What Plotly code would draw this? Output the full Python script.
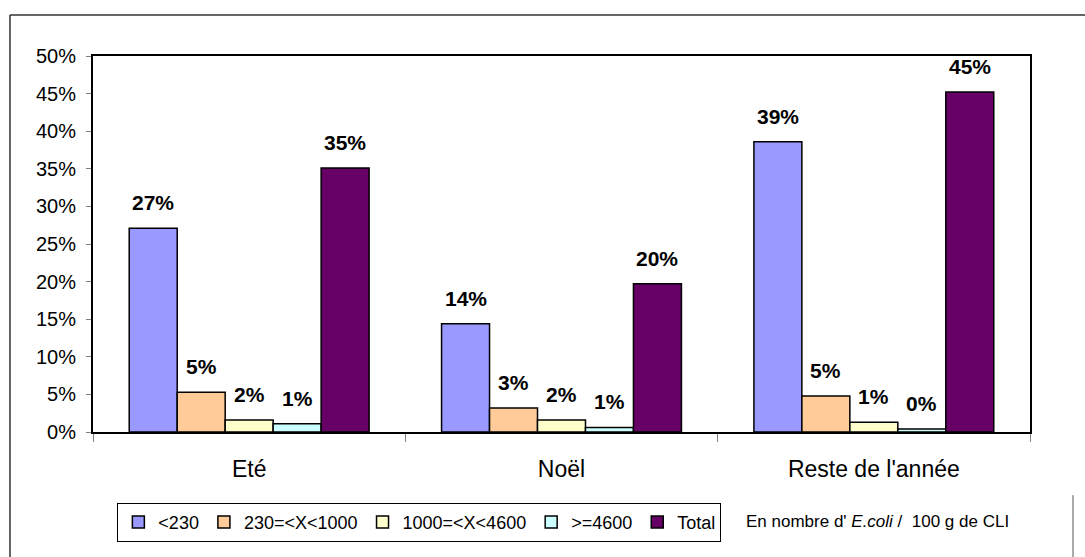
import plotly.graph_objects as go

categories = ["Eté", "Noël", "Reste de l'année"]
series_names = ["<230", "230=<X<1000", "1000=<X<4600", ">=4600", "Total"]
v_lt230 = [0.271, 0.144, 0.386]
v_230_1000 = [0.053, 0.032, 0.048]
v_1000_4600 = [0.016, 0.016, 0.013]
v_ge4600 = [0.011, 0.006, 0.004]
v_total = [0.351, 0.197, 0.452]
series_values = [v_lt230, v_230_1000, v_1000_4600, v_ge4600, v_total]
colors = ["#9999FF", "#FFCC99", "#FFFFCC", "#CCFFFF", "#660066"]
y_ticks = [i * 0.05 for i in range(11)]

FONT = "Liberation Sans, Arial, sans-serif"
W, H = 1085, 557
ML, MR, MT, MB = 93, 55, 56, 125
BARGAP = 0.232

fig = go.Figure()
for name, vals, col in zip(series_names, series_values, colors):
    fig.add_trace(go.Bar(
        x=categories, y=vals, name=name,
        marker=dict(color=col, line=dict(color="black", width=1.5)),
    ))

# value labels above bars (offset to each bar's slot within the group)
n = len(series_names)
bar_px = (W - ML - MR) / len(categories) * (1 - BARGAP) / n
for i, vals in enumerate(series_values):
    for cat, v in zip(categories, vals):
        fig.add_annotation(x=cat, y=v, xref="x", yref="y", text=f"{v:.0%}",
                           showarrow=False, xanchor="center", yanchor="bottom",
                           xshift=(i - (n - 1) / 2) * bar_px, yshift=12,
                           font=dict(family=FONT, size=21, color="black", weight="bold"))

# outer frame lines
L, R, T = -0.0886, 1.0587, 1.109
fig.add_shape(type="line", xref="paper", yref="paper", x0=L, x1=R, y0=T, y1=T,
              line=dict(color="#333333", width=1.5))
fig.add_shape(type="line", xref="paper", yref="paper", x0=L, x1=L, y0=T, y1=-0.4,
              line=dict(color="#333333", width=1.5))
fig.add_shape(type="line", xref="paper", yref="paper", x0=1.0459, x1=1.0459, y0=-0.168, y1=-0.4,
              line=dict(color="#555555", width=1))

fig.add_annotation(text="En nombre d' <i>E.coli</i> /  100 g de CLI", xref="paper", yref="paper",
                   x=0.695, y=-0.237, xanchor="left", yanchor="middle", showarrow=False,
                   font=dict(family=FONT, size=17, color="black"))

fig.update_layout(
    width=W, height=H,
    margin=dict(l=ML, r=MR, t=MT, b=MB),
    paper_bgcolor="white", plot_bgcolor="white",
    barmode="group", bargap=BARGAP, bargroupgap=0,
    font=dict(family=FONT, color="black"),
    showlegend=True,
    legend=dict(orientation="h", x=0.026, y=-0.188, xanchor="left", yanchor="top",
                bordercolor="black", borderwidth=1, bgcolor="white",
                font=dict(family=FONT, size=18), itemwidth=30, traceorder="normal"),
    xaxis=dict(showline=True, linecolor="black", linewidth=2, mirror=True,
               ticks="outside", tickson="boundaries", ticklen=8, tickcolor="#808080",
               tickfont=dict(family=FONT, size=23), showgrid=False, ticklabelstandoff=15),
    yaxis=dict(range=[0, 0.5], tickvals=y_ticks, tickformat=".0%",
               showline=True, linecolor="black", linewidth=2, mirror=True,
               ticks="outside", ticklen=5, tickcolor="#808080", ticklabelstandoff=6,
               tickfont=dict(family=FONT, size=20), showgrid=False, zeroline=False),
)

fig.write_html("out.html", config={"displayModeBar": False},
               post_script="document.body.style.margin='0px';")
